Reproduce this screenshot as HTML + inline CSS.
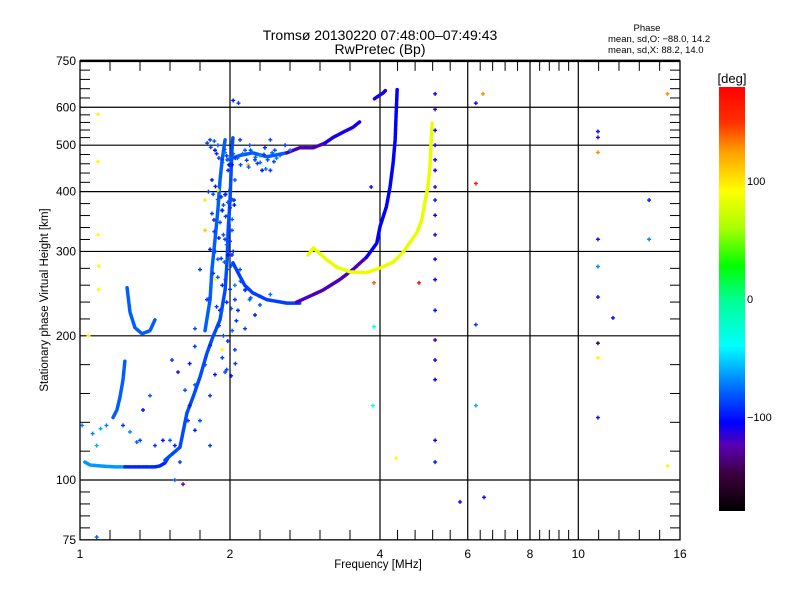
<!DOCTYPE html>
<html><head><meta charset="utf-8">
<style>
html,body{margin:0;padding:0;background:#fff;}
svg{display:block;font-family:"Liberation Sans",sans-serif;}
</style></head>
<body>
<svg id="chart" width="800" height="600" viewBox="0 0 800 600" xmlns="http://www.w3.org/2000/svg">
<rect width="800" height="600" fill="#fff"/>
<g id="grid"></g>
<g id="marks"></g>
<g id="axes"></g>
<text x="380" y="40" font-size="14" text-anchor="middle">Tromsø 20130220 07:48:00–07:49:43</text>
<text x="380" y="54" font-size="14" text-anchor="middle">RwPretec (Bp)</text>
<text x="647" y="31" font-size="9.5" text-anchor="middle">Phase</text>
<text x="608" y="42" font-size="9.5">mean, sd,O: −88.0, 14.2</text>
<text x="608" y="53" font-size="9.5">mean, sd,X:  88.2, 14.0</text>
<text x="378" y="568" font-size="11.5" text-anchor="middle">Frequency [MHz]</text>
<text transform="translate(48,300) rotate(-90)" font-size="11.5" text-anchor="middle">Stationary phase Virtual Height [km]</text>
<g id="cbar"></g>
</svg>
<script>
// ---- data ----
const xMajorTicks=[1,2,4,6,8,10,16];
const yMajorTicks=[75,100,200,300,400,500,600,750];
const cbarTicks=[100,0,-100];
// traces: [freq MHz, height km]
const traceE1=[[1.023,109],[1.047,107.5],[1.097,107],[1.175,106.5],[1.231,106.5]];
const phaseE1=-65;
const traceE2=[[1.231,106.5],[1.32,106.5],[1.414,106.5],[1.447,107],[1.48,108.5],[1.5,111]];
const phaseE2=-95;
const traceF0=[[1.165,135],[1.186,140],[1.203,149],[1.22,162],[1.231,178]];
const phaseF0=-80;
const traceCusp=[[1.243,252],[1.26,224],[1.289,208],[1.332,202],[1.382,205],[1.414,216]];
const phaseCusp=-80;
const traceF1=[[1.481,110],[1.587,117],[1.639,138],[1.686,149],[1.741,164],[1.798,184],[1.848,199],[1.91,216],[1.955,249],[1.974,288],[1.983,332],[2.0,384],[2.009,433],[2.018,489],[2.027,518]];
const phaseF1=-85;
const traceF1b=[[1.782,205],[1.824,238],[1.84,275],[1.866,317],[1.891,366],[1.91,423],[1.929,466],[1.955,513]];
const phaseF1b=-80;
const traceF1down=[[2.027,284],[2.14,255],[2.22,246],[2.37,238],[2.6,234],[2.76,234]];
const phaseF1down=-88;
const traceF2low=[[2.72,235],[3.07,249],[3.32,262],[3.53,275],[3.76,292]];
const phaseF2low=-122;
const traceO=[[3.76,292],[3.94,312],[4.0,338],[4.12,372],[4.19,409],[4.25,459],[4.29,513],[4.31,583],[4.33,653]];
const phaseO=-105;
const traceX=[[2.87,295],[2.94,305],[3.03,297],[3.13,288],[3.28,278],[3.48,272],[3.76,271],[4.0,277],[4.25,285],[4.44,298],[4.59,313],[4.74,328],[4.85,349],[4.92,379],[4.99,409],[5.04,451],[5.06,495],[5.09,556]];
const phaseX=84;
const traceUpperA=[[1.974,466],[2.095,476],[2.22,482],[2.37,473],[2.6,482]];
const phaseUpperA=-80;
const traceUpperB=[[2.6,482],[2.76,494],[2.94,494],[3.1,505]];
const phaseUpperB=-122;
const traceUpperC=[[3.1,505],[3.22,519],[3.37,532],[3.53,545],[3.64,559]];
const phaseUpperC=-110;
const traceTop=[[3.9,625],[3.94,630],[4.06,643],[4.1,650]];
const phaseTop=-110;
// scattered points: freq, height, phase
const scatterFreq=[1.087,1.087,1.087,1.09,1.09,1.04,1.01,1.06,1.1,1.13,1.08,
2.03,2.08,1.61,1.08,
5.16,5.16,5.16,5.16,5.16,5.16,5.16,5.16,5.16,5.16,5.16,5.16,5.16,5.16,5.16,5.16,5.16,5.16,
5.79,6.47,6.23,6.44,6.23,6.23,6.23,4.79,3.89,3.87,3.84,4.31,3.89,
10.95,10.95,10.95,10.95,10.95,10.95,10.95,10.95,10.95,11.74,13.87,13.87,15.1,15.1,
1.824,1.866,1.891,1.929,1.955,1.983,2.018,2.046,1.84,1.891,1.955,2.0,2.037,1.782,1.929,1.983,1.857,2.018,1.782,1.955,1.824,1.891,2.018,1.741,1.866,1.974,2.046,1.798,1.91,1.701,1.824,1.929,2.046,1.782,1.866,1.701,1.824,1.66,1.955,
2.095,2.144,2.19,2.245,2.297,2.35,2.41,2.46,2.52,2.58,2.64,2.32,2.176,2.41,
2.095,2.144,2.19,2.075,2.245,2.144,2.297,2.41,2.046,
1.53,1.573,1.625,1.647,1.701,1.516,1.55,1.587,1.741,1.824,1.467,1.382,1.414,1.32,1.338,1.55,1.26,1.3,1.22,1.66,1.7];
const scatterHeight=[580,462,325,280,250,200,130,125,128,130,118,
620,612,98,76,
640,594,537,500,466,443,409,384,357,325,289,262,226,196,178,162,121,109,
90,92,612,640,416,211,143,258,258,143,409,111,209,
534,519,483,318,279,241,193,180,135,218,384,318,640,107,
513,488,500,466,483,443,455,423,423,403,394,403,384,384,366,357,349,332,332,318,303,289,295,275,262,275,255,238,226,207,191,187,187,174,166,158,150,143,168,
513,488,500,466,476,494,443,488,476,500,488,443,455,513,
275,249,238,226,221,207,232,244,238,
178,168,154,133,127,121,118,109,133,118,121,150,118,121,140,100,126,120,130,175,190];
const scatterPhase=[95,90,90,85,90,95,-70,-70,-60,-70,-60,
-100,-90,-125,-80,
-110,-120,-100,-110,-105,-110,-120,-100,-110,-115,-105,-110,-100,-120,-110,-105,-110,-100,
-110,-100,-100,130,160,-90,-60,170,140,-40,-100,92,-40,
-100,-120,130,-100,-70,-100,-150,95,-100,-100,-100,-70,130,95,
-90,-100,-80,-90,-70,-95,-100,-80,-100,95,-90,-85,-100,100,-90,-80,-95,-85,110,-90,-100,-80,-95,-90,90,-85,-70,-90,-100,-85,-95,95,-90,-85,-100,-80,-90,-100,-85,
-90,-80,-85,-90,-70,-95,-90,-85,-80,-90,-75,-100,120,-85,
-85,-90,-80,-95,-100,-90,-85,-75,-90,
-90,-100,-85,-90,-95,-80,-100,-90,-85,-90,-100,-80,-90,-85,-100,-75,-70,-80,-90,-100,-90];
// dense echo cluster near 2 MHz
const clusterFreq=[1.80,1.83,1.86,1.88,1.90,1.93,1.95,1.97,1.99,2.01,2.03,2.05,1.81,1.85,1.87,1.89,1.92,1.94,1.96,1.98,2.00,2.02,2.04,1.84,1.88,1.91,1.93,1.96,1.99,2.02,1.86,1.90,1.94,1.97,2.00,2.03,1.87,1.92,1.95,1.98,2.01,1.85,1.89,1.93,1.96,2.0,1.82,1.88,1.92,1.97,2.01,2.07,2.12,2.16,2.2,2.25,2.3,2.34,2.38,2.43,2.48,2.1,2.18,2.27,2.36,2.45,1.9,1.94,1.98,2.02,2.06,2.1,2.15,2.2,1.93,1.97,2.01,2.05];
const clusterHeight=[505,495,510,480,470,460,490,475,455,465,480,470,400,395,410,385,390,375,395,380,370,385,375,360,350,345,365,355,340,350,330,320,325,310,315,300,300,290,285,295,280,270,265,255,262,250,240,230,225,235,228,470,480,465,488,472,460,478,466,482,470,455,450,458,446,462,210,200,195,205,215,260,250,240,180,170,165,175];
const clusterPhase=[-90,-85,-80,-95,-90,-80,-85,-90,-100,-85,-80,-90,-90,-85,-100,-80,-90,-85,-95,-80,-90,-85,-100,-90,-80,-85,-95,-90,-85,-80,-90,-100,-85,-80,-90,-95,-85,-90,-80,-100,-85,-90,-80,-95,-85,-90,-85,-90,-80,-95,-85,-80,-75,-90,-85,-80,-75,-90,-85,-80,-75,-85,-80,-90,-75,-85,-90,-85,-95,-80,-90,-85,-90,-80,-90,-85,-100,-90];
// colormap stops: phase value -> colour
const cmapValues=[-180,-150,-125,-105,-75,-40,0,28,60,92,125,150,180];
const cmapColors=["#000000","#3a003a","#5a00b0","#0000ff","#0070ff","#00ffff","#00ff90","#00ff00","#a8ff00","#ffff00","#ffa000","#ff3000","#ff0000"];

// ---- scales ----
const X0=80,X1=680,Y100=480,PXDEC=479;
function xs(f){return X0+150*Math.log2(f);}
function ys(h){return Y100-PXDEC*Math.log10(h/100);}
const CB_TOP=87,CB_BOT=511,CB_X=719,CB_W=26;
function cbY(v){return CB_BOT-(v+180)/360*(CB_BOT-CB_TOP);}
function hex(c){return [parseInt(c.substr(1,2),16),parseInt(c.substr(3,2),16),parseInt(c.substr(5,2),16)];}
function color(v){
  if(v<=cmapValues[0])return cmapColors[0];
  for(let i=1;i<cmapValues.length;i++){
    if(v<=cmapValues[i]){
      const t=(v-cmapValues[i-1])/(cmapValues[i]-cmapValues[i-1]);
      const a=hex(cmapColors[i-1]),b=hex(cmapColors[i]);
      return "rgb("+a.map((q,k)=>Math.round(q+(b[k]-q)*t)).join(",")+")";
    }
  }
  return cmapColors[cmapColors.length-1];
}
const NS="http://www.w3.org/2000/svg";
function mk(tag,attrs,parent){const e=document.createElementNS(NS,tag);for(const k in attrs)e.setAttribute(k,attrs[k]);parent.appendChild(e);return e;}
const grid=document.getElementById('grid'),marks=document.getElementById('marks'),axes=document.getElementById('axes'),cbar=document.getElementById('cbar');

// grid lines
xMajorTicks.forEach(v=>{
  if(v===1||v===16)return;
  const l=mk('line',{x1:xs(v),x2:xs(v),y1:ys(750),y2:ys(75),stroke:'#000','stroke-width':1.2},grid);
  
  
});
yMajorTicks.forEach(v=>{
  if(v===75||v===750)return;
  const l=mk('line',{x1:X0,x2:X1,y1:ys(v),y2:ys(v),stroke:'#000','stroke-width':1.2},grid);
  
  
});

// traces
function drawTrace(pts,ph,name){
  const c=color(ph);
  const pl=mk('polyline',{points:pts.map(p=>xs(p[0])+','+ys(p[1])).join(' '),fill:'none',stroke:c,'stroke-width':3.5,'stroke-linejoin':'round','stroke-linecap':'round','stroke-dasharray':'7 1.5'},marks);
  
  
}
drawTrace(traceE1,phaseE1,'e-layer-trace-low');
drawTrace(traceE2,phaseE2,'e-layer-trace-high');
drawTrace(traceF0,phaseF0,'f0-trace');
drawTrace(traceCusp,phaseCusp,'f1-cusp-trace');
drawTrace(traceF1,phaseF1,'f1-trace');
drawTrace(traceF1b,phaseF1b,'f1-trace-b');
drawTrace(traceF1down,phaseF1down,'f1-descending-trace');
drawTrace(traceF2low,phaseF2low,'f2-low-trace');
drawTrace(traceO,phaseO,'o-mode-trace');
drawTrace(traceX,phaseX,'x-mode-trace');
drawTrace(traceUpperA,phaseUpperA,'upper-trace-a');
drawTrace(traceUpperB,phaseUpperB,'upper-trace-b');
drawTrace(traceUpperC,phaseUpperC,'upper-trace-c');
drawTrace(traceTop,phaseTop,'top-trace');

// scatter pluses
function plus(f,h,ph,name){
  const x=xs(f),y=ys(h);
  const p=mk('path',{d:'M'+(x-2)+','+y+'h4M'+x+','+(y-2)+'v4',stroke:color(ph),'stroke-width':1.4,fill:'none'},marks);
  
  
}
for(let i=0;i<scatterFreq.length;i++) plus(scatterFreq[i],scatterHeight[i],scatterPhase[i],'echo-point');
for(let i=0;i<clusterFreq.length;i++) plus(clusterFreq[i],clusterHeight[i],clusterPhase[i],'cluster-echo-point');

// axes frame and ticks
const frame=mk('rect',{x:X0,y:ys(750),width:X1-X0,height:ys(75)-ys(750),fill:'none',stroke:'#000','stroke-width':1.3},axes);


mk('line',{x1:X0,x2:X1,y1:ys(750),y2:ys(750),stroke:'#000','stroke-width':2.5},axes);
const yT=ys(750),yB=ys(75);
for(let i=0;i<xMajorTicks.length-1;i++){
  const a=xs(xMajorTicks[i]),b=xs(xMajorTicks[i+1]);
  for(let k=1;k<5;k++){const x=a+(b-a)*k/5;
    mk('line',{x1:x,x2:x,y1:yB,y2:yB-10,stroke:'#000','stroke-width':1},axes);
    mk('line',{x1:x,x2:x,y1:yT,y2:yT+10,stroke:'#000','stroke-width':1},axes);}
}
for(let i=0;i<yMajorTicks.length-1;i++){
  const a=ys(yMajorTicks[i]),b=ys(yMajorTicks[i+1]);
  for(let k=1;k<5;k++){const y=a+(b-a)*k/5;
    mk('line',{x1:X0,x2:X0+10,y1:y,y2:y,stroke:'#000','stroke-width':1},axes);
    mk('line',{x1:X1,x2:X1-10,y1:y,y2:y,stroke:'#000','stroke-width':1},axes);}
}
xMajorTicks.forEach(v=>{
  const t=mk('text',{x:xs(v),y:yB+18,'font-size':12,'text-anchor':'middle'},axes);
  t.textContent=v;
  
  
});
yMajorTicks.forEach(v=>{
  const t=mk('text',{x:X0-4,y:ys(v)+4,'font-size':12,'text-anchor':'end'},axes);
  t.textContent=v;
  
  
});

// colorbar
const defs=mk('defs',{},cbar);
const lg=mk('linearGradient',{id:'cg',x1:0,y1:1,x2:0,y2:0},defs);
cmapValues.forEach((v,i)=>mk('stop',{offset:((v+180)/360),'stop-color':cmapColors[i]},lg));
const cb=mk('rect',{x:CB_X,y:CB_TOP,width:CB_W,height:CB_BOT-CB_TOP,fill:'url(#cg)'},cbar);


const cbt=mk('text',{x:CB_X+13,y:CB_TOP-4,'font-size':13,'text-anchor':'middle'},cbar);
cbt.textContent='[deg]';


cbarTicks.forEach(v=>{
  const t=mk('text',{x:CB_X+CB_W+2,y:cbY(v)+4,'font-size':11},cbar);
  t.textContent=v<0?'−'+Math.abs(v):v;
  
  
});
</script>
</body></html>
